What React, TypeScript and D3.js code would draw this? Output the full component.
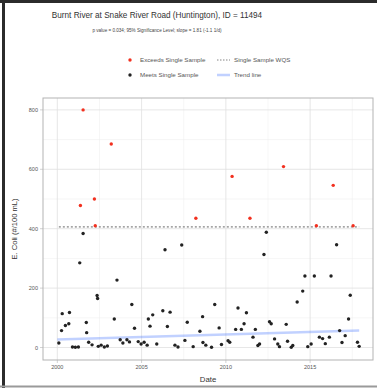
import React from "react";
import * as d3 from "d3";

// sample dates as decimal years, E. coli in #/100 mL
const exceedYears = [2001.37, 2001.53, 2002.2, 2002.25, 2003.2, 2008.22, 2010.37, 2011.43, 2013.42, 2015.37, 2016.37, 2017.55];
const exceedValues = [478, 800, 500, 410, 685, 435, 576, 435, 609, 410, 546, 410];

const meetYears = [
    2000.09, 2000.25, 2000.29, 2000.48, 2000.68, 2000.72, 2000.9, 2001.07, 2001.25, 2001.33,
    2001.53, 2001.72, 2001.74, 2001.86, 2002.06, 2002.36, 2002.39, 2002.43, 2002.6, 2002.79,
    2002.97, 2003.38, 2003.54, 2003.73, 2003.89, 2004.13, 2004.28, 2004.42, 2004.58, 2004.8,
    2004.97, 2005.15, 2005.33, 2005.4, 2005.5, 2005.66, 2005.9, 2006.26, 2006.39, 2006.53,
    2006.69, 2006.98, 2007.16, 2007.38, 2007.57, 2007.71, 2008.06, 2008.46, 2008.62, 2008.64,
    2008.81, 2009.15, 2009.34, 2009.6, 2009.74, 2010.13, 2010.23, 2010.58, 2010.72, 2010.92,
    2011.08, 2011.22, 2011.61, 2011.75, 2011.9, 2012.0, 2012.26, 2012.4, 2012.59, 2012.69,
    2012.89, 2013.08, 2013.18, 2013.58, 2013.66, 2013.88, 2013.97, 2014.23, 2014.56, 2014.69,
    2014.86, 2015.06, 2015.25, 2015.55, 2015.74, 2015.9, 2016.14, 2016.24, 2016.57, 2016.75,
    2016.89, 2017.08, 2017.28, 2017.38, 2017.81, 2017.91
];
const meetValues = [
    15, 57, 114, 74, 80, 118, 2, 1, 2, 285,
    384, 84, 50, 18, 9, 175, 165, 4, 8, 2,
    5, 96, 227, 26, 15, 26, 19, 145, 65, 20,
    12, 18, 8, 96, 72, 110, 12, 124, 329, 71,
    119, 8, 2, 345, 24, 85, 3, 55, 104, 17,
    8, 1, 145, 66, 10, 23, 18, 61, 133, 61,
    80, 117, 35, 61, 7, 12, 313, 388, 87, 80,
    29, 12, 3, 78, 21, 1, 7, 153, 190, 241,
    3, 12, 241, 35, 30, 13, 35, 241, 346, 57,
    17, 40, 96, 176, 18, 4
];

const trendYears = [2000.0, 2017.91];
const trendValues = [27, 57];
const wqsValue = 406;

const xTicks = [2000, 2005, 2010, 2015];
const xMinor = [2002.5, 2007.5, 2012.5, 2017.5];
const yTicks = [0, 200, 400, 600, 800];
const yMinor = [100, 300, 500, 700];

const W = 377;
const H = 388;
const panel = {left: 43, right: 373, top: 98, bottom: 360};
const font = "'Liberation Sans', Arial, sans-serif";

const App: React.FC = () => {
    const x = d3.scaleLinear().domain([1999.15, 2018.73]).range([panel.left, panel.right]);
    const y = d3.scaleLinear().domain([-42, 840]).range([panel.bottom, panel.top]);

    const trendLine = d3.line<number>()
        .x((d, i) => x(trendYears[i]))
        .y(d => y(d));

    const xExtent = d3.extent(meetYears.concat(exceedYears)) as [number, number];

    return (
        <svg width={W} height={H} style={{position: "absolute", left: 0, top: 0, background: "#fff"}}
             fontFamily={font}>
            {/* outer frame */}
            <line x1={0} x2={W} y1={1.5} y2={1.5} stroke="#2b2b2b" strokeWidth={3}/>
            <line x1={3.5} x2={3.5} y1={0} y2={H} stroke="#2b2b2b" strokeWidth={3}/>
            <line x1={0} x2={W} y1={386.5} y2={386.5} stroke="#9a9a9a" strokeWidth={2}/>

            {/* titles */}
            <text x={157} y={18} textAnchor="middle" fontSize={8.2} fill="#333">
                Burnt River at Snake River Road (Huntington), ID = 11494
            </text>
            <text x={157} y={32} textAnchor="middle" fontSize={4.6} fill="#444">
                p value = 0.034; 95% Significance Level; slope = 1.81 (-1.1 1/d)
            </text>

            {/* legend */}
            <g fontSize={6.2} fill="#555">
                <circle cx={130} cy={60} r={1.7} fill="#f2301f"/>
                <text x={140} y={62}>Exceeds Single Sample</text>
                <line x1={217} x2={230} y1={60} y2={60} stroke="#666" strokeWidth={0.8} strokeDasharray="1.5 1.5"/>
                <text x={234} y={62}>Single Sample WQS</text>
                <circle cx={130} cy={75} r={1.7} fill="#222"/>
                <text x={140} y={77}>Meets Single Sample</text>
                <line x1={217} x2={230} y1={75} y2={75} stroke="#3366ff" strokeOpacity={0.3} strokeWidth={2.5}/>
                <text x={234} y={77}>Trend line</text>
            </g>

            {/* grid */}
            <g>
                {yMinor.map(v => (
                    <line key={"ym" + v} x1={panel.left} x2={panel.right} y1={y(v)} y2={y(v)} stroke="#ededed" strokeWidth={0.5}/>
                ))}
                {xMinor.map(v => (
                    <line key={"xm" + v} x1={x(v)} x2={x(v)} y1={panel.top} y2={panel.bottom} stroke="#ededed" strokeWidth={0.5}/>
                ))}
                {yTicks.map(v => (
                    <line key={"y" + v} x1={panel.left} x2={panel.right} y1={y(v)} y2={y(v)} stroke="#e0e0e0" strokeWidth={0.8}/>
                ))}
                {xTicks.map(v => (
                    <line key={"x" + v} x1={x(v)} x2={x(v)} y1={panel.top} y2={panel.bottom} stroke="#e0e0e0" strokeWidth={0.8}/>
                ))}
            </g>

            {/* WQS line */}
            <line x1={x(xExtent[0])} x2={x(xExtent[1])} y1={y(wqsValue)} y2={y(wqsValue)}
                  stroke="#666" strokeWidth={1} strokeDasharray="2 2"/>

            {/* trend */}
            <path d={trendLine(trendValues) || ""} fill="none" stroke="#3366ff" strokeOpacity={0.3} strokeWidth={2.5}/>

            {/* points */}
            {meetYears.map((d, i) => (
                <circle key={"m" + i} cx={x(d)} cy={y(meetValues[i])} r={1.7} fill="#222"/>
            ))}
            {exceedYears.map((d, i) => (
                <circle key={"e" + i} cx={x(d)} cy={y(exceedValues[i])} r={1.7} fill="#f2301f"/>
            ))}

            {/* panel border */}
            <rect x={panel.left} y={panel.top} width={panel.right - panel.left} height={panel.bottom - panel.top}
                  fill="none" stroke="#b3b3b3" strokeWidth={1}/>

            {/* axes */}
            <g fontSize={5.5} fill="#555">
                {yTicks.map(v => (
                    <g key={"yt" + v}>
                        <line x1={panel.left - 3} x2={panel.left} y1={y(v)} y2={y(v)} stroke="#b3b3b3" strokeWidth={0.6}/>
                        <text x={panel.left - 5} y={y(v) + 2} textAnchor="end">{v}</text>
                    </g>
                ))}
                {xTicks.map(v => (
                    <g key={"xt" + v}>
                        <line x1={x(v)} x2={x(v)} y1={panel.bottom} y2={panel.bottom + 3} stroke="#b3b3b3" strokeWidth={0.6}/>
                        <text x={x(v)} y={panel.bottom + 9} textAnchor="middle">{v}</text>
                    </g>
                ))}
            </g>
            <text x={(panel.left + panel.right) / 2} y={382} textAnchor="middle" fontSize={7.8} fill="#333">Date</text>
            <text transform={`translate(17, ${(panel.top + panel.bottom) / 2}) rotate(-90)`} textAnchor="middle"
                  fontSize={7.6} fill="#333">E. Coli (#/100 mL)</text>
        </svg>
    );
};

export default App;
